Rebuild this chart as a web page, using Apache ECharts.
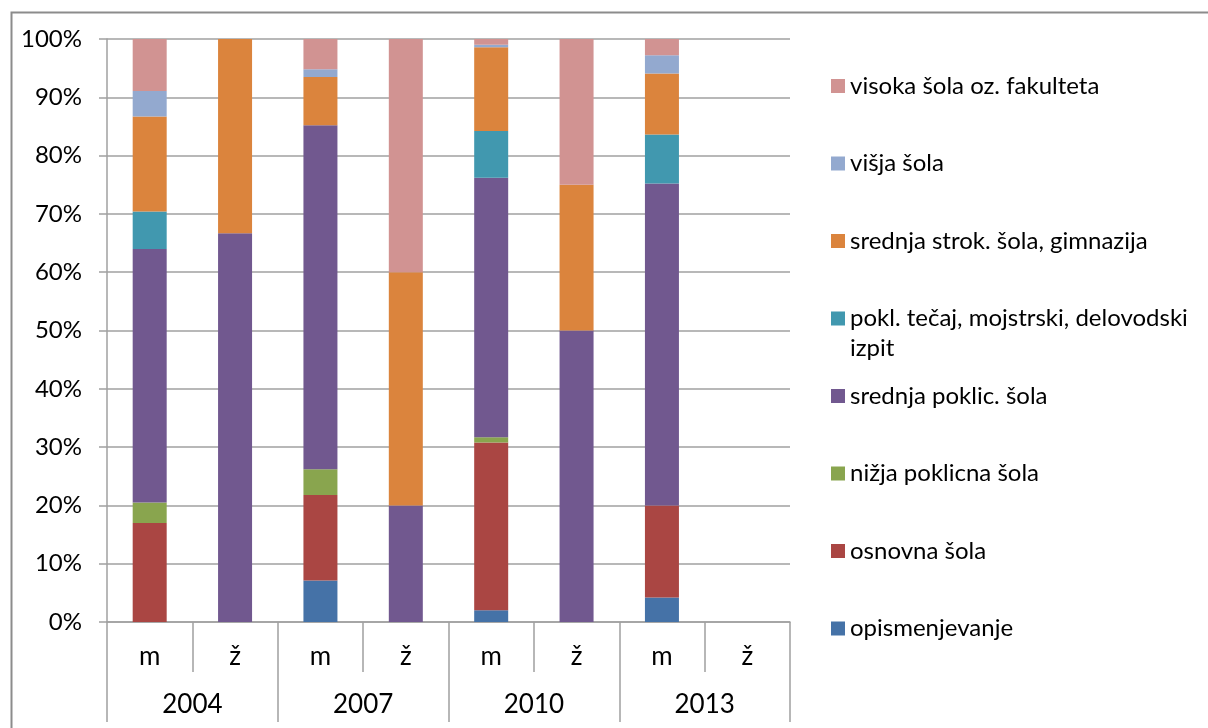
<!DOCTYPE html>
<html>
<head>
<meta charset="utf-8">
<script src="https://cdn.jsdelivr.net/npm/echarts@6/dist/echarts.min.js"></script>
<style>
  html, body { margin: 0; padding: 0; background: #fff; }
  #chart { width: 1208px; height: 728px; }
</style>
</head>
<body>
<div id="chart"></div>
<script>
// kategorije (spol) in leta
var spol = ['m', 'ž', 'm', 'ž', 'm', 'ž', 'm', 'ž'];
var leta = ['2004', '2007', '2010', '2013'];

// delezi v % po kategorijah (zadnji ž 2013 je prazen)
var opismenjevanje = [0, 0, 7.1, 0, 2.0, 0, 4.2, null];
var osnovna = [17.0, 0, 14.7, 0, 28.8, 0, 15.8, null];
var nizjaPoklicna = [3.5, 0, 4.4, 0, 0.9, 0, 0, null];
var srednjaPoklic = [43.5, 66.7, 59.0, 20.0, 44.5, 50.0, 55.2, null];
var poklTecaj = [6.4, 0, 0, 0, 8.0, 0, 8.4, null];
var srednjaStrok = [16.3, 33.3, 8.3, 40.0, 14.4, 25.0, 10.5, null];
var visja = [4.4, 0, 1.3, 0, 0.4, 0, 3.1, null];
var visoka = [8.9, 0, 5.2, 40.0, 1.0, 25.0, 2.8, null];

var imena = [
  'opismenjevanje',
  'osnovna šola',
  'nižja poklicna šola',
  'srednja poklic. šola',
  'pokl. tečaj, mojstrski, delovodski izpit',
  'srednja strok. šola, gimnazija',
  'višja šola',
  'visoka šola oz. fakulteta'
];
var podatki = [opismenjevanje, osnovna, nizjaPoklicna, srednjaPoklic, poklTecaj, srednjaStrok, visja, visoka];
var barve = ['#4572A7', '#AA4643', '#89A54E', '#71588F', '#4198AF', '#DB843D', '#93A9CF', '#D19392'];

var FONT = 'Lato';
var siva = '#a0a0a0';

var chart = echarts.init(document.getElementById('chart'));

var series = imena.map(function (ime, i) {
  return {
    name: ime,
    type: 'bar',
    stack: 'skupaj',
    barWidth: 34,
    data: podatki[i],
    itemStyle: { color: barve[i] },
    emphasis: { disabled: true }
  };
});

// legenda: vsak element posebej, od zgoraj navzdol v obratnem vrstnem redu
var legendTop = 86, legendStep = 77.5;
var legende = imena.slice().reverse().map(function (ime, i) {
  var cy = legendTop + i * legendStep;
  var dolga = ime.indexOf('izpit') >= 0;
  return {
    data: [ime],
    orient: 'vertical',
    left: 831,
    top: dolga ? cy - 15 : cy - 12,
    padding: 0,
    itemWidth: 14,
    itemHeight: dolga ? 44 : 14,
    icon: dolga ? 'path://M0,0L14,0L14,14L0,14Z M0,43.9L0.1,43.9L0.1,44L0,44Z' : 'rect',
    selectedMode: false,
    formatter: function (n) { return n.replace('delovodski ', 'delovodski\n'); },
    textStyle: { fontFamily: FONT, fontSize: 24, color: '#000', lineHeight: dolga ? 30 : 14 }
  };
});

var option = {
  animation: false,
  backgroundColor: '#fff',
  graphic: [{
    type: 'rect',
    left: 9, top: 10,
    shape: { width: 1300, height: 800 },
    style: { fill: 'none', stroke: '#8c8c8c', lineWidth: 2 },
    silent: true
  }],
  grid: { left: 107, right: 418, top: 39, bottom: 106, containLabel: false },
  legend: legende,
  xAxis: [
    {
      type: 'category',
      data: spol,
      position: 'bottom',
      axisLine: { show: true, lineStyle: { color: siva, width: 1.5 } },
      axisTick: { show: true, length: 50, interval: 0, lineStyle: { color: siva, width: 1.5 } },
      axisLabel: { fontFamily: FONT, fontSize: 26, color: '#000', margin: 35, verticalAlign: 'middle', interval: 0 },
      splitLine: { show: false }
    },
    {
      type: 'category',
      data: leta,
      position: 'bottom',
      offset: 50,
      axisLine: { show: false },
      axisTick: { show: true, length: 50, interval: 0, lineStyle: { color: siva, width: 1.5 } },
      axisLabel: { fontFamily: FONT, fontSize: 26, color: '#000', margin: 33, verticalAlign: 'middle', interval: 0 },
      splitLine: { show: false }
    }
  ],
  yAxis: {
    type: 'value',
    min: 0,
    max: 100,
    interval: 10,
    axisLine: { show: true, lineStyle: { color: siva, width: 1.5 } },
    axisTick: { show: true, length: 8, lineStyle: { color: siva, width: 1.5 } },
    axisLabel: { fontFamily: FONT, fontSize: 24, color: '#000', margin: 25, formatter: '{value}%' },
    splitLine: { show: true, lineStyle: { color: siva, width: 1.5 } }
  },
  series: series
};

chart.setOption(option);
</script>
</body>
</html>
